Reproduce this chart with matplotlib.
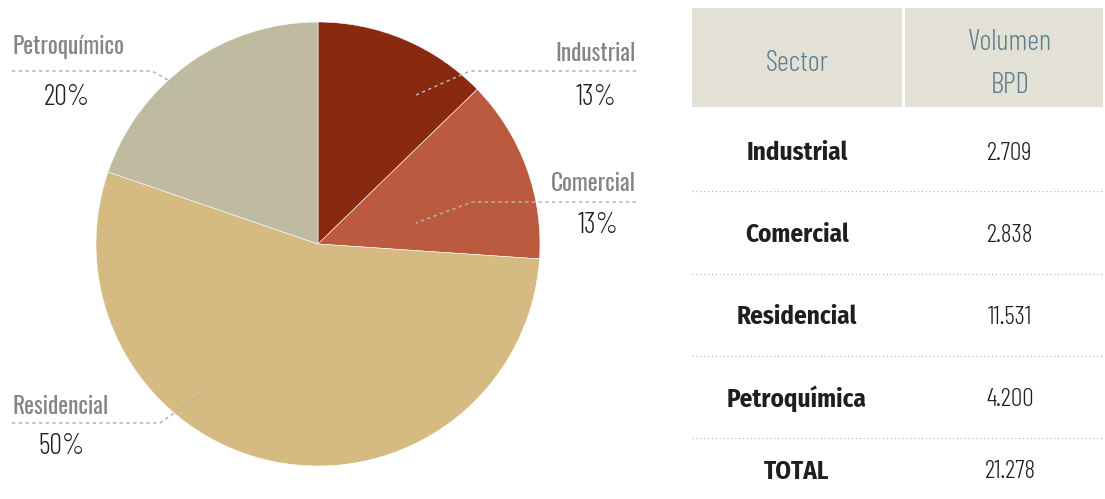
import matplotlib
matplotlib.use("Agg")
import matplotlib.pyplot as plt
from matplotlib import font_manager as fm
from matplotlib.patches import Rectangle

# Consumo por sector (BPD)
sectors = ["Industrial", "Comercial", "Residencial", "Petroquímica"]
volumes = [2709, 2838, 11531, 4200]
total = 21278
pie_labels = ["Industrial", "Comercial", "Residencial", "Petroquímico"]
pct_labels = ["13%", "13%", "50%", "20%"]
colors = ["#882910", "#bc5a40", "#d5ba82", "#bfbba1"]


def pick(*families):
    have = {f.name for f in fm.fontManager.ttflist}
    for fam in families:
        if fam in have:
            return fam
    return "DejaVu Sans"


label_font = pick("Oswald", "Roboto Condensed", "Liberation Sans Narrow")
light_font = pick("Barlow Condensed", "Fira Sans Extra Condensed", "Roboto Condensed")
bold_font = pick("Fira Sans Condensed", "Open Sans Condensed", "Roboto Condensed")

W, H = 1105, 499
fig = plt.figure(figsize=(W / 100, H / 100), dpi=100)
ax = fig.add_axes([0, 0, 1, 1])


def Y(py):
    # pixel rows counted from the top
    return H - py


# pie
ax.pie(volumes, colors=colors, startangle=90, counterclock=False,
       center=(318, Y(244)), radius=222, frame=True,
       wedgeprops=dict(edgecolor="white", linewidth=0.4))
ax.set_xlim(0, W)
ax.set_ylim(0, H)
ax.set_aspect("equal")
ax.axis("off")

grey_txt = "#848589"
dark_txt = "#1f1f1f"
leader = dict(color="#b3b3b3", lw=1.1, ls=(0, (2.2, 2.2)))

# callouts: (label x, label y, ha, leader points, pct x, pct y)
callouts = [
    (636, 53, "right", [(636, 71), (470, 71), (416, 95)], 596, 97),
    (636, 183, "right", [(636, 202), (472, 202), (416, 223)], 598, 225),
    (12, 406, "left", [(12, 423), (160, 423), (202, 394)], 62, 446),
    (12, 47, "left", [(12, 71), (152, 71), (200, 98)], 67, 97),
]
for (lx, ly, ha, pts, px, py), name, pct in zip(callouts, pie_labels, pct_labels):
    ax.text(lx, Y(ly), name, ha=ha, va="center", color=grey_txt,
            fontsize=16.8, family=label_font)
    xs = [p[0] for p in pts]
    ys = [Y(p[1]) for p in pts]
    ax.plot(xs, ys, **leader)
    ax.text(px, Y(py), pct, ha="center", va="center", color=dark_txt,
            fontsize=20.5, family=light_font, fontweight=300)

# table
tx0, tx1, tdiv = 692, 1103, 903
col1, col2 = 797, 1010
ax.add_patch(Rectangle((tx0, Y(107)), tdiv - tx0 - 1, 99, color="#e3e1d5", lw=0))
ax.add_patch(Rectangle((tdiv + 2, Y(107)), tx1 - tdiv - 2, 99, color="#e3e1d5", lw=0))
head_col = "#5f7f8e"
for hx, hy, txt in [(col1, 63, "Sector"), (col2, 42, "Volumen"), (col2, 85, "BPD")]:
    ax.text(hx, Y(hy), txt, ha="center", va="center", color=head_col,
            fontsize=21, family=light_font, fontweight=300)

row_y = [153, 235, 317, 399, 472]
rows = sectors + ["TOTAL"]
vals = volumes + [total]
for ry, name, v in zip(row_y, rows, vals):
    ax.text(col1, Y(ry), name, ha="center", va="center", color=dark_txt,
            fontsize=18, family=bold_font, fontweight="bold")
    ax.text(col2, Y(ry), f"{v:,}".replace(",", "."), ha="center", va="center",
            color=dark_txt, fontsize=18.5, family=light_font, fontweight=300)

for sy in [191, 274, 356, 438]:
    ax.plot([tx0, tx1], [Y(sy), Y(sy)], color="#b5b5b5", lw=0.8, ls=(0, (1, 2.5)))

fig.savefig("out.png", dpi=100)
